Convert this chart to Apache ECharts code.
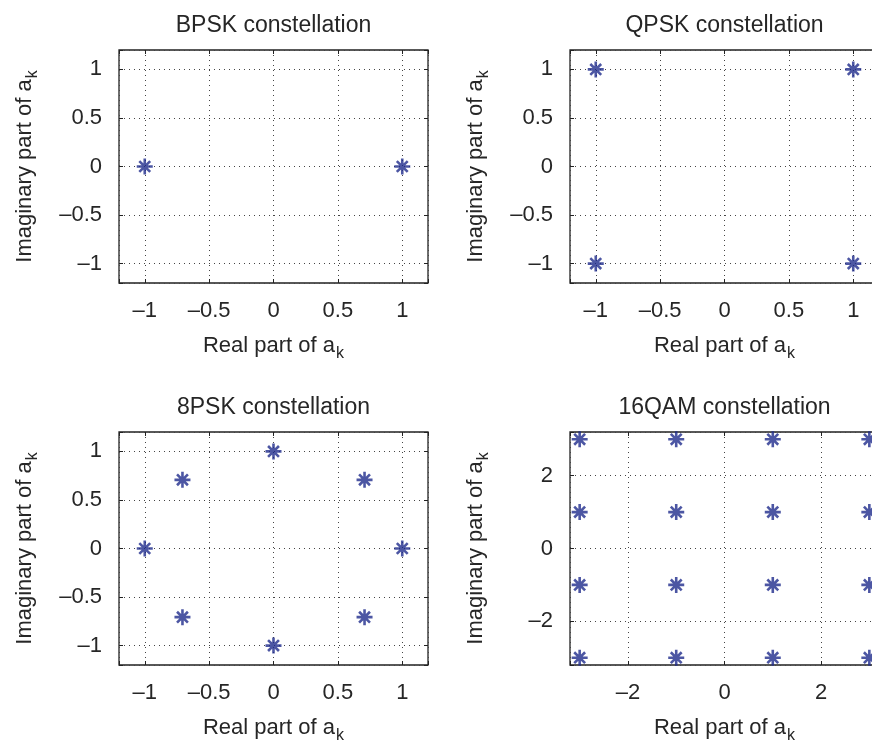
<!DOCTYPE html>
<html>
<head>
<meta charset="utf-8">
<script src="https://cdn.jsdelivr.net/npm/echarts@6/dist/echarts.min.js"></script>
<style>
  html, body { margin: 0; padding: 0; background: #fff; }
  #main { width: 872px; height: 743px; }
</style>
</head>
<body>
<div id="main"></div>
<script>
// constellation points (real / imaginary parts)
const bpskRe = [-1, 1];
const bpskIm = [0, 0];
const qpskRe = [-1, 1, -1, 1];
const qpskIm = [1, 1, -1, -1];
const psk8Re = [1, 0.7071, 0, -0.7071, -1, -0.7071, 0, 0.7071];
const psk8Im = [0, 0.7071, 1, 0.7071, 0, -0.7071, -1, -0.7071];
const qam16Re = [-3, -1, 1, 3, -3, -1, 1, 3, -3, -1, 1, 3, -3, -1, 1, 3];
const qam16Im = [3, 3, 3, 3, 1, 1, 1, 1, -1, -1, -1, -1, -3, -3, -3, -3];

// tick labels
const pskTicks = [-1, -0.5, 0, 0.5, 1];
const qamTicks = [-2, 0, 2];

const titles = ['BPSK constellation', 'QPSK constellation', '8PSK constellation', '16QAM constellation'];

const FONT = '"Liberation Sans", Arial, Helvetica, sans-serif';
const TXT = '#262626';
const MARK = '#1f2c8c';

// asterisk marker, like matlab '*'
const STAR = 'path://M0 50 L100 50 M50 0 L50 100 M16 16 L84 84 M84 16 L16 84';

const panels = [
    { left: 119, top: 50, re: bpskRe, im: bpskIm, lim: 1.2, ticks: pskTicks, split: 5 },
    { left: 570, top: 50, re: qpskRe, im: qpskIm, lim: 1.2, ticks: pskTicks, split: 5 },
    { left: 119, top: 432, re: psk8Re, im: psk8Im, lim: 1.2, ticks: pskTicks, split: 5 },
    { left: 570, top: 432, re: qam16Re, im: qam16Im, lim: 3.2, ticks: qamTicks, split: 3 }
];
const W = 309, H = 233;

function fmt(ticks) {
    return function (v) {
        const hit = ticks.find(t => Math.abs(t - v) < 1e-9);
        if (hit === undefined) return '';
        return hit < 0 ? '\u2013' + Math.abs(hit) : String(hit);
    };
}

const nameStyle = {
    fontSize: 22, fontFamily: FONT, color: TXT,
    rich: { sub: { fontSize: 16, fontFamily: FONT, color: TXT, padding: [17, 0, 0, 1] } }
};

const grid = [], xAxis = [], yAxis = [], series = [], title = [];

panels.forEach((p, i) => {
    grid.push({
        left: p.left, top: p.top, width: W, height: H,
        show: true, borderColor: '#222', borderWidth: 1.3, backgroundColor: '#fff',
        containLabel: false, outerBoundsMode: 'none'
    });
    title.push({
        text: titles[i], left: p.left + W / 2, top: p.top - 36, textAlign: 'center', padding: 0,
        textStyle: { fontSize: 23, fontWeight: 'normal', fontFamily: FONT, color: TXT }
    });
    const base = {
        type: 'value', gridIndex: i, min: -p.lim, max: p.lim, splitNumber: p.split,
        axisLine: { show: false, onZero: false },
        axisTick: { show: true, inside: true, length: 4, lineStyle: { color: '#222', width: 1 } }
    };
    xAxis.push(Object.assign({}, base, {
        position: 'bottom',
        axisLabel: { fontSize: 22, fontFamily: FONT, color: TXT, margin: 17, formatter: fmt(p.ticks) },
        splitLine: { show: true, lineStyle: { color: '#444', type: [1, 4], width: 1 } },
        name: 'Real part of a{sub|k}', nameLocation: 'middle', nameGap: 46, nameTextStyle: nameStyle
    }));
    xAxis.push(Object.assign({}, base, {
        position: 'top', axisLabel: { show: false }, splitLine: { show: false }
    }));
    yAxis.push(Object.assign({}, base, {
        position: 'left',
        axisLabel: { fontSize: 22, fontFamily: FONT, color: TXT, margin: 17, formatter: fmt(p.ticks) },
        splitLine: { show: true, lineStyle: { color: '#444', type: [1, 4], width: 1 } },
        name: 'Imaginary part of a{sub|k}', nameLocation: 'middle', nameGap: 78, nameRotate: 90,
        nameTextStyle: nameStyle
    }));
    yAxis.push(Object.assign({}, base, {
        position: 'right', axisLabel: { show: false }, splitLine: { show: false }
    }));
    series.push({
        type: 'scatter', xAxisIndex: 2 * i, yAxisIndex: 2 * i,
        data: p.re.map((r, k) => [r, p.im[k]]),
        symbol: STAR, symbolSize: 16,
        itemStyle: { color: 'rgba(0,0,0,0)', borderColor: MARK, borderWidth: 2.6 },
        clip: false, silent: true, z: 5
    });
});

const chart = echarts.init(document.getElementById('main'), null, { renderer: 'canvas' });
chart.setOption({
    animation: false,
    backgroundColor: '#fff',
    title: title,
    grid: grid,
    xAxis: xAxis,
    yAxis: yAxis,
    series: series
});
</script>
</body>
</html>
